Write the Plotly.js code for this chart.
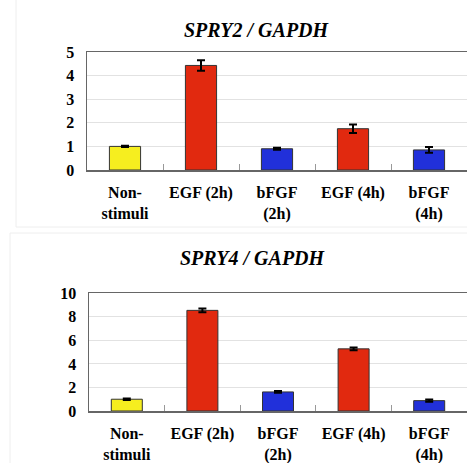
<!DOCTYPE html>
<html>
<head>
<meta charset="utf-8">
<script src="https://cdn.plot.ly/plotly-3.0.1.min.js"></script>
<style>html,body{margin:0;padding:0;background:#fff;overflow:hidden}</style>
</head>
<body>
<div id="chart" style="width:467px;height:463px"></div>
<script>
const categories = ["Non-<br>stimuli", "EGF (2h)", "bFGF<br>(2h)", "EGF (4h)", "bFGF<br>(4h)"];
const spry2Values = [1.0, 4.43, 0.9, 1.75, 0.85];
const spry2Errors = [0.03, 0.22, 0.04, 0.18, 0.12];
const spry4Values = [1.0, 8.55, 1.62, 5.28, 0.88];
const spry4Errors = [0.06, 0.15, 0.08, 0.12, 0.1];
const spry2Ticks = [0, 1, 2, 3, 4, 5];
const spry4Ticks = [0, 2, 4, 6, 8, 10];

const barColors = ["#f6ee1f", "#e1290f", "#2130da", "#e1290f", "#2130da"];
const W = 467, H = 463;
const serif = "Liberation Serif";

function bar(y, err, xa, ya) {
  return {
    type: "bar", x: categories, y: y, xaxis: xa, yaxis: ya,
    marker: {color: barColors, line: {color: "#333", width: 1}},
    error_y: {type: "data", array: err, visible: true, color: "#000", thickness: 2, width: 4},
    hoverinfo: "none", showlegend: false
  };
}

function px(x) { return x / W; }
function py(y) { return 1 - y / H; }

const xCommon = {
  type: "category", showgrid: false, zeroline: false,
  showline: true, linecolor: "#666", linewidth: 1.5, mirror: true,
  ticks: "inside", tickson: "boundaries", ticklen: 6, tickcolor: "#999", tickwidth: 1,
  ticklabelstandoff: 7,
  tickfont: {family: serif, size: 16, color: "#000", weight: "bold"},
  fixedrange: true
};
const yCommon = {
  showgrid: true, gridcolor: "#e2e2e2", gridwidth: 1, zeroline: false,
  showline: true, linecolor: "#666", linewidth: 1.5,
  ticks: "", ticklabelstandoff: 8, tickmode: "array",
  tickfont: {family: serif, size: 16, color: "#000", weight: "bold"},
  fixedrange: true
};

const layout = {
  width: W, height: H,
  margin: {l: 0, r: 0, t: 0, b: 0},
  paper_bgcolor: "#fff", plot_bgcolor: "#fff",
  bargap: 0.59,
  xaxis: Object.assign({}, xCommon, {domain: [px(87), 1], anchor: "y"}),
  yaxis: Object.assign({}, yCommon, {domain: [py(170), py(52)], range: [0, 5], tickvals: spry2Ticks, anchor: "x"}),
  xaxis2: Object.assign({}, xCommon, {domain: [px(89), 1], anchor: "y2"}),
  yaxis2: Object.assign({}, yCommon, {domain: [py(411), py(293.3)], range: [0, 10], tickvals: spry4Ticks, anchor: "x2"}),
  annotations: [
    {text: "SPRY2 / GAPDH", xref: "paper", yref: "paper", x: px(257), y: py(30), showarrow: false,
     xanchor: "center", yanchor: "middle",
     font: {family: serif, size: 20, color: "#000", weight: "bold", style: "italic"}},
    {text: "SPRY4 / GAPDH", xref: "paper", yref: "paper", x: px(253), y: py(258), showarrow: false,
     xanchor: "center", yanchor: "middle",
     font: {family: serif, size: 20, color: "#000", weight: "bold", style: "italic"}}
  ],
  shapes: [
    {type: "line", xref: "paper", yref: "paper", x0: px(16), x1: px(16), y0: py(0), y1: py(227), line: {color: "#eeeeee", width: 1}},
    {type: "line", xref: "paper", yref: "paper", x0: px(16), x1: 1, y0: py(227), y1: py(227), line: {color: "#eeeeee", width: 1}},
    {type: "line", xref: "paper", yref: "paper", x0: px(10), x1: 1, y0: py(233), y1: py(233), line: {color: "#eeeeee", width: 1}},
    {type: "line", xref: "paper", yref: "paper", x0: px(10), x1: px(10), y0: py(233), y1: 0, line: {color: "#eeeeee", width: 1}}
  ]
};

Plotly.newPlot("chart", [bar(spry2Values, spry2Errors, "x", "y"), bar(spry4Values, spry4Errors, "x2", "y2")], layout, {displayModeBar: false, staticPlot: true});
</script>
</body>
</html>
